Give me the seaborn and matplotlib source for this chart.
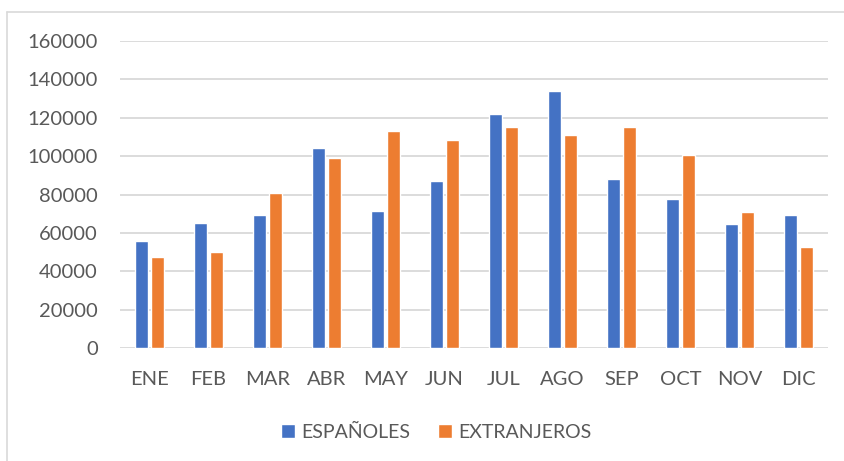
import numpy as np
import pandas as pd
import matplotlib.pyplot as plt
import seaborn as sns
from matplotlib.lines import Line2D

sns.set_style('white')
plt.rcParams['font.family'] = ['Lato', 'DejaVu Sans']

months = ['ENE', 'FEB', 'MAR', 'ABR', 'MAY', 'JUN', 'JUL', 'AGO', 'SEP', 'OCT', 'NOV', 'DIC']
espanoles = [56000, 65400, 69600, 104200, 71300, 87000, 122100, 134100, 88300, 77700, 64900, 69200]
extranjeros = [47700, 50300, 81000, 99000, 112900, 108700, 115000, 111100, 115300, 100900, 71100, 52500]
series = ['ESPAÑOLES', 'EXTRANJEROS']
colors = ['#4472C4', '#ED7D31']
yticks = [0, 20000, 40000, 60000, 80000, 100000, 120000, 140000, 160000]

df = pd.DataFrame({'mes': months * 2,
                   'valor': espanoles + extranjeros,
                   'serie': [series[0]] * 12 + [series[1]] * 12})

text_color = '#595959'
grid_color = '#D9D9D9'

fig = plt.figure(figsize=(8.45, 4.61), dpi=100)
ax = fig.add_axes([120 / 845, 1 - 348.3 / 461, 708 / 845, 307.3 / 461])

sns.barplot(data=df, x='mes', y='valor', hue='serie', order=months, hue_order=series,
            palette=colors, width=0.576, gap=0.235, saturation=1, legend=True, ax=ax)

ax.set_ylim(0, 160000)
ax.set_xlim(-0.5, 11.5)
ax.set_yticks(yticks)
ax.set_yticklabels([str(v) for v in yticks])
ax.set_xlabel('')
ax.set_ylabel('')
ax.yaxis.grid(True, color=grid_color, lw=1.3)
ax.set_axisbelow(True)
sns.despine(ax=ax, left=True, bottom=True)
ax.tick_params(axis='y', length=0, pad=16, labelsize=14.5, labelcolor=text_color)
ax.tick_params(axis='x', length=0, pad=16, labelsize=14.5, labelcolor=text_color)

handles, labels = ax.get_legend_handles_labels()
ax.get_legend().remove()
fig.legend(handles, labels, loc='center', bbox_to_anchor=(436.5 / 845, 1 - 432 / 461),
           ncol=2, frameon=False, fontsize=14, labelcolor=text_color,
           handlelength=0.72, handleheight=0.72, handletextpad=0.31, columnspacing=1.44,
           borderpad=0)

# chart-area border (Excel style), only left and top visible in the crop
fig.add_artist(Line2D([7.5 / 845, 7.5 / 845], [0, 1 - 12 / 461], transform=fig.transFigure,
                      color=grid_color, lw=1.2))
fig.add_artist(Line2D([7.5 / 845, 1], [1 - 12 / 461, 1 - 12 / 461], transform=fig.transFigure,
                      color=grid_color, lw=1.2))

fig.savefig('out.png', dpi=100)
